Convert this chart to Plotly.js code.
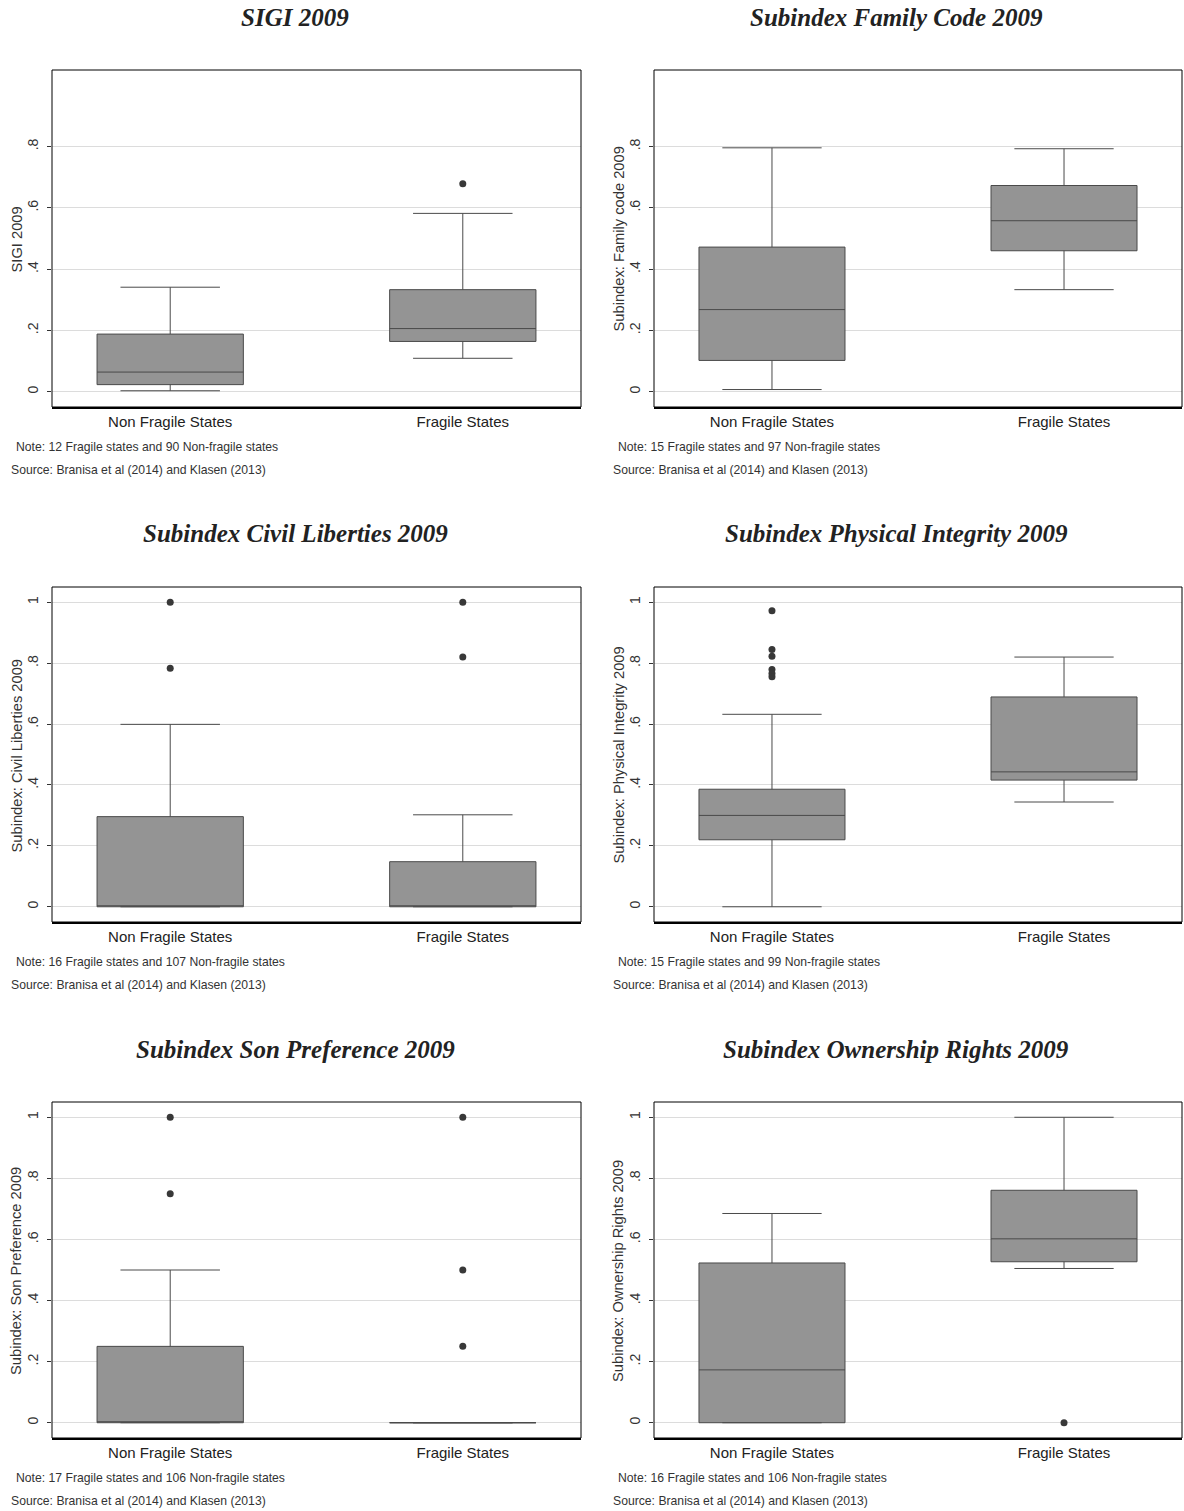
<!DOCTYPE html>
<html>
<head>
<meta charset="utf-8">
<script src="https://cdn.plot.ly/plotly-3.0.1.min.js"></script>
<style>html,body{margin:0;padding:0;background:#fff;}#chart{width:1184px;height:1511px;}</style>
</head>
<body>
<div id="chart"></div>
<script>
// ---------- DATA ----------
const categories = ['Non Fragile States', 'Fragile States'];

const panelTitles = ['SIGI 2009', 'Subindex Family Code 2009', 'Subindex Civil Liberties 2009',
  'Subindex Physical Integrity 2009', 'Subindex Son Preference 2009', 'Subindex Ownership Rights 2009'];
const yTitles = ['SIGI 2009', 'Subindex: Family code 2009', 'Subindex: Civil Liberties 2009',
  'Subindex: Physical Integrity 2009', 'Subindex: Son Preference 2009', 'Subindex: Ownership Rights 2009'];
const notes = ['Note: 12 Fragile states and 90 Non-fragile states',
  'Note: 15 Fragile states and 97 Non-fragile states',
  'Note: 16 Fragile states and 107 Non-fragile states',
  'Note: 15 Fragile states and 99 Non-fragile states',
  'Note: 17 Fragile states and 106 Non-fragile states',
  'Note: 16 Fragile states and 106 Non-fragile states'];
const sourceText = 'Source: Branisa et al (2014) and Klasen (2013)';

const tickVals08 = [0, 0.2, 0.4, 0.6, 0.8];
const tickText08 = ['0', '.2', '.4', '.6', '.8'];
const tickVals10 = [0, 0.2, 0.4, 0.6, 0.8, 1];
const tickText10 = ['0', '.2', '.4', '.6', '.8', '1'];

// SIGI 2009
const sigiQ1 = [0.023, 0.164], sigiMed = [0.064, 0.206], sigiQ3 = [0.188, 0.333];
const sigiLo = [0.003, 0.109], sigiHi = [0.341, 0.582];
const sigiOutX = ['Fragile States'], sigiOutY = [0.679];

// Family code
const famQ1 = [0.102, 0.460], famMed = [0.268, 0.558], famQ3 = [0.472, 0.673];
const famLo = [0.007, 0.333], famHi = [0.796, 0.793];
const famOutX = [], famOutY = [];

// Civil liberties
const civQ1 = [0, 0], civMed = [0, 0], civQ3 = [0.296, 0.148];
const civLo = [0, 0], civHi = [0.599, 0.302];
const civOutX = ['Non Fragile States', 'Non Fragile States', 'Fragile States', 'Fragile States'];
const civOutY = [1.0, 0.783, 1.0, 0.82];

// Physical integrity
const phyQ1 = [0.220, 0.416], phyMed = [0.300, 0.443], phyQ3 = [0.386, 0.689];
const phyLo = [0, 0.344], phyHi = [0.632, 0.820];
const phyOutX = ['Non Fragile States', 'Non Fragile States', 'Non Fragile States',
  'Non Fragile States', 'Non Fragile States', 'Non Fragile States'];
const phyOutY = [0.972, 0.845, 0.823, 0.779, 0.766, 0.755];

// Son preference
const sonQ1 = [0, 0], sonMed = [0, 0], sonQ3 = [0.25, 0];
const sonLo = [0, 0], sonHi = [0.5, 0];
const sonOutX = ['Non Fragile States', 'Non Fragile States', 'Fragile States', 'Fragile States', 'Fragile States'];
const sonOutY = [1.0, 0.75, 1.0, 0.5, 0.25];

// Ownership rights
const ownQ1 = [0, 0.527], ownMed = [0.173, 0.602], ownQ3 = [0.523, 0.761];
const ownLo = [0, 0.505], ownHi = [0.685, 1.0];
const ownOutX = ['Fragile States'], ownOutY = [0];

// ---------- BUILD ----------
const W = 1184, H = 1511;
const px = v => v / W;
const py = v => 1 - v / H;

const panels = [
  {q1: sigiQ1, med: sigiMed, q3: sigiQ3, lo: sigiLo, hi: sigiHi, ox: sigiOutX, oy: sigiOutY, tv: tickVals08, tt: tickText08},
  {q1: famQ1, med: famMed, q3: famQ3, lo: famLo, hi: famHi, ox: famOutX, oy: famOutY, tv: tickVals08, tt: tickText08},
  {q1: civQ1, med: civMed, q3: civQ3, lo: civLo, hi: civHi, ox: civOutX, oy: civOutY, tv: tickVals10, tt: tickText10},
  {q1: phyQ1, med: phyMed, q3: phyQ3, lo: phyLo, hi: phyHi, ox: phyOutX, oy: phyOutY, tv: tickVals10, tt: tickText10},
  {q1: sonQ1, med: sonMed, q3: sonQ3, lo: sonLo, hi: sonHi, ox: sonOutX, oy: sonOutY, tv: tickVals10, tt: tickText10},
  {q1: ownQ1, med: ownMed, q3: ownQ3, lo: ownLo, hi: ownHi, ox: ownOutX, oy: ownOutY, tv: tickVals10, tt: tickText10}
];

const colX = [[52, 581], [654, 1182]];
const rowY = [[70, 407], [587, 922], [1102, 1438]];
const titleY = [18, 533, 1049];

const data = [];
const layout = {
  width: W, height: H,
  margin: {l: 0, r: 0, t: 0, b: 0},
  paper_bgcolor: '#ffffff', plot_bgcolor: '#ffffff',
  showlegend: false,
  font: {family: 'Liberation Sans, Arial, sans-serif', color: '#222'},
  annotations: [], shapes: []
};

panels.forEach((p, i) => {
  const col = i % 2, row = Math.floor(i / 2);
  const n = i === 0 ? '' : String(i + 1);
  const xa = 'x' + n, ya = 'y' + n;
  const [x0, x1] = colX[col];
  const [y0, y1] = rowY[row];

  data.push({
    type: 'box', xaxis: xa, yaxis: ya,
    x: categories, q1: p.q1, median: p.med, q3: p.q3,
    lowerfence: p.lo, upperfence: p.hi,
    boxpoints: false, width: 0.5, whiskerwidth: 0.68,
    fillcolor: '#949494',
    line: {color: '#4a4a4a', width: 1},
    hoverinfo: 'skip'
  });
  data.push({
    type: 'scatter', mode: 'markers', xaxis: xa, yaxis: ya,
    x: p.ox, y: p.oy,
    marker: {color: '#383838', size: 7},
    hoverinfo: 'skip'
  });

  layout['xaxis' + n] = {
    domain: [px(x0), px(x1)], anchor: ya,
    type: 'category', categoryorder: 'array', categoryarray: categories,
    range: [-0.404, 1.404],
    showgrid: false, zeroline: false,
    showline: true, linecolor: '#000', linewidth: 2,
    ticks: '', tickfont: {size: 15, color: '#222'},
    fixedrange: true
  };
  layout['yaxis' + n] = {
    domain: [py(y1), py(y0)], anchor: xa,
    range: [-0.05, 1.05],
    tickvals: p.tv, ticktext: p.tt, tickangle: -90,
    tickfont: {size: 14, color: '#333'},
    ticks: 'outside', ticklen: 4, tickcolor: '#333',
    ticklabelstandoff: 3,
    showgrid: true, gridcolor: '#dcdcdc', gridwidth: 1,
    zeroline: false, showline: false,
    fixedrange: true
  };
  layout.shapes.push({
    type: 'rect', xref: xa + ' domain', yref: ya + ' domain',
    x0: 0, x1: 1, y0: 0, y1: 1, line: {color: '#000', width: 1}, layer: 'above'
  });

  layout.annotations.push({
    xref: 'paper', yref: 'paper', x: px(col === 0 ? 295 : 896), y: py(titleY[row]),
    text: '<b><i>' + panelTitles[i] + '</i></b>', showarrow: false,
    xanchor: 'center', yanchor: 'middle',
    font: {family: 'Liberation Serif, Times New Roman, serif', size: 25, color: '#222'}
  });
  layout.annotations.push({
    xref: 'paper', yref: 'paper', x: px(x0 - 36), y: py((y0 + y1) / 2 + 1),
    text: yTitles[i], showarrow: false, textangle: -90,
    xanchor: 'center', yanchor: 'middle',
    font: {size: 14.7, color: '#333'}
  });
  layout.annotations.push({
    xref: 'paper', yref: 'paper', x: px(x0 - 38), y: py(y1 + 40),
    text: notes[i], showarrow: false, xanchor: 'left', yanchor: 'middle',
    font: {size: 12.2, color: '#333'}
  });
  layout.annotations.push({
    xref: 'paper', yref: 'paper', x: px(x0 - 43), y: py(y1 + 63),
    text: sourceText, showarrow: false, xanchor: 'left', yanchor: 'middle',
    font: {size: 12.2, color: '#333'}
  });
});

Plotly.newPlot('chart', data, layout, {displayModeBar: false, staticPlot: true});
</script>
</body>
</html>
